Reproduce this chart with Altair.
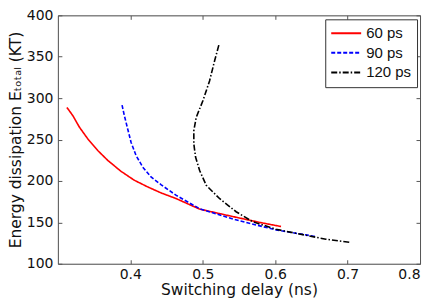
import altair as alt
import pandas as pd

series = ["60 ps", "90 ps", "120 ps"]

red_x = [0.3124, 0.3207, 0.3298, 0.3413, 0.355, 0.3689, 0.3872, 0.4056, 0.424, 0.4423, 0.463, 0.4956, 0.5415, 0.5782, 0.6081]
red_y = [288.8, 278.8, 264.8, 250.8, 236.8, 224.8, 211.6, 200.8, 192.8, 185.6, 178.8, 166.0, 157.0, 150.0, 145.0]

blue_x = [0.3886, 0.3918, 0.3964, 0.401, 0.4079, 0.4171, 0.4286, 0.4423, 0.463, 0.4956, 0.5415, 0.6012, 0.6517, 0.656]
blue_y = [291.6, 278.8, 262.8, 246.8, 230.8, 216.8, 204.8, 195.6, 182.8, 166.5, 154.0, 140.8, 133.5, 133.0]

black_x = [0.5222, 0.5163, 0.5094, 0.5002, 0.491, 0.4877, 0.4877, 0.4901, 0.4956, 0.5048, 0.5231, 0.5461, 0.569, 0.6012, 0.6333, 0.6701, 0.7045]
black_y = [364.0, 344.8, 320.8, 296.8, 276.8, 260.8, 244.8, 228.8, 212.8, 194.8, 178.8, 162.8, 150.8, 141.6, 136.0, 129.6, 125.6]

x_ticks = [0.4, 0.5, 0.6, 0.7, 0.8]
y_ticks = [100, 150, 200, 250, 300, 350, 400]

rows = []
for name, xs, ys in [(series[0], red_x, red_y), (series[1], blue_x, blue_y), (series[2], black_x, black_y)]:
    for i, (a, b) in enumerate(zip(xs, ys)):
        rows.append({"s": name, "x": a, "y": b, "i": i})
df = pd.DataFrame(rows)

font = "DejaVu Sans"
inside = {"expr": "-4"}

xscale = alt.Scale(domain=[0.3, 0.8], nice=False)
yscale = alt.Scale(domain=[100, 400], nice=False)

base_axis = dict(grid=False, domainColor="#555555", tickColor="#555555", tickSize=inside,
                 labelFont=font, labelFontSize=14, labelColor="#111111",
                 titleFont=font, titleFontSize=15.5, titleFontWeight="normal", titleColor="#111111")

lines = alt.Chart(df).mark_line(strokeWidth=1.6).encode(
    x=alt.X("x:Q", scale=xscale, axis=alt.Axis(values=x_ticks, format=".1f", title="Switching delay (ns)",
                                               labelPadding=8, titlePadding=1, **base_axis)),
    y=alt.Y("y:Q", scale=yscale, axis=alt.Axis(values=y_ticks, title="Energy dissipation Eₜₒₜₐₗ (KT)",
                                               labelPadding=9, titlePadding=3, **base_axis)),
    color=alt.Color("s:N", scale=alt.Scale(domain=series, range=["#ff0000", "#0000ff", "#000000"]),
                    legend=alt.Legend(title=None, orient="none", legendX=268, legendY=4,
                                      symbolType="stroke", symbolSize=900, symbolStrokeWidth=2,
                                      labelFont="Liberation Sans", labelFontSize=15, labelColor="#111111",
                                      strokeColor="#333333", fillColor="white", padding=5,
                                      clipHeight=18, rowPadding=1.6, labelOffset=4)),
    strokeDash=alt.StrokeDash("s:N", scale=alt.Scale(domain=series, range=[[1, 0], [4, 2], [6, 2, 1.5, 2]]),
                              legend=None),
    order="i:Q",
)

mirror = alt.Chart(df).mark_line(opacity=0).encode(
    x=alt.X("x:Q", scale=xscale, axis=alt.Axis(orient="top", values=x_ticks, labels=False, title=None, **base_axis)),
    y=alt.Y("y:Q", scale=yscale, axis=alt.Axis(orient="right", values=y_ticks, labels=False, title=None, **base_axis)),
    detail="s:N",
    order="i:Q",
)

chart = alt.layer(lines, mirror).resolve_axis(x="independent", y="independent").properties(
    width=363, height=249,
    autosize=alt.AutoSizeParams(type="none"),
    padding={"left": 50, "top": 7, "right": 8, "bottom": 40},
).configure_view(stroke=None).configure(background="white")

chart.save("out.html", embed_options={"renderer": "svg", "actions": False})
